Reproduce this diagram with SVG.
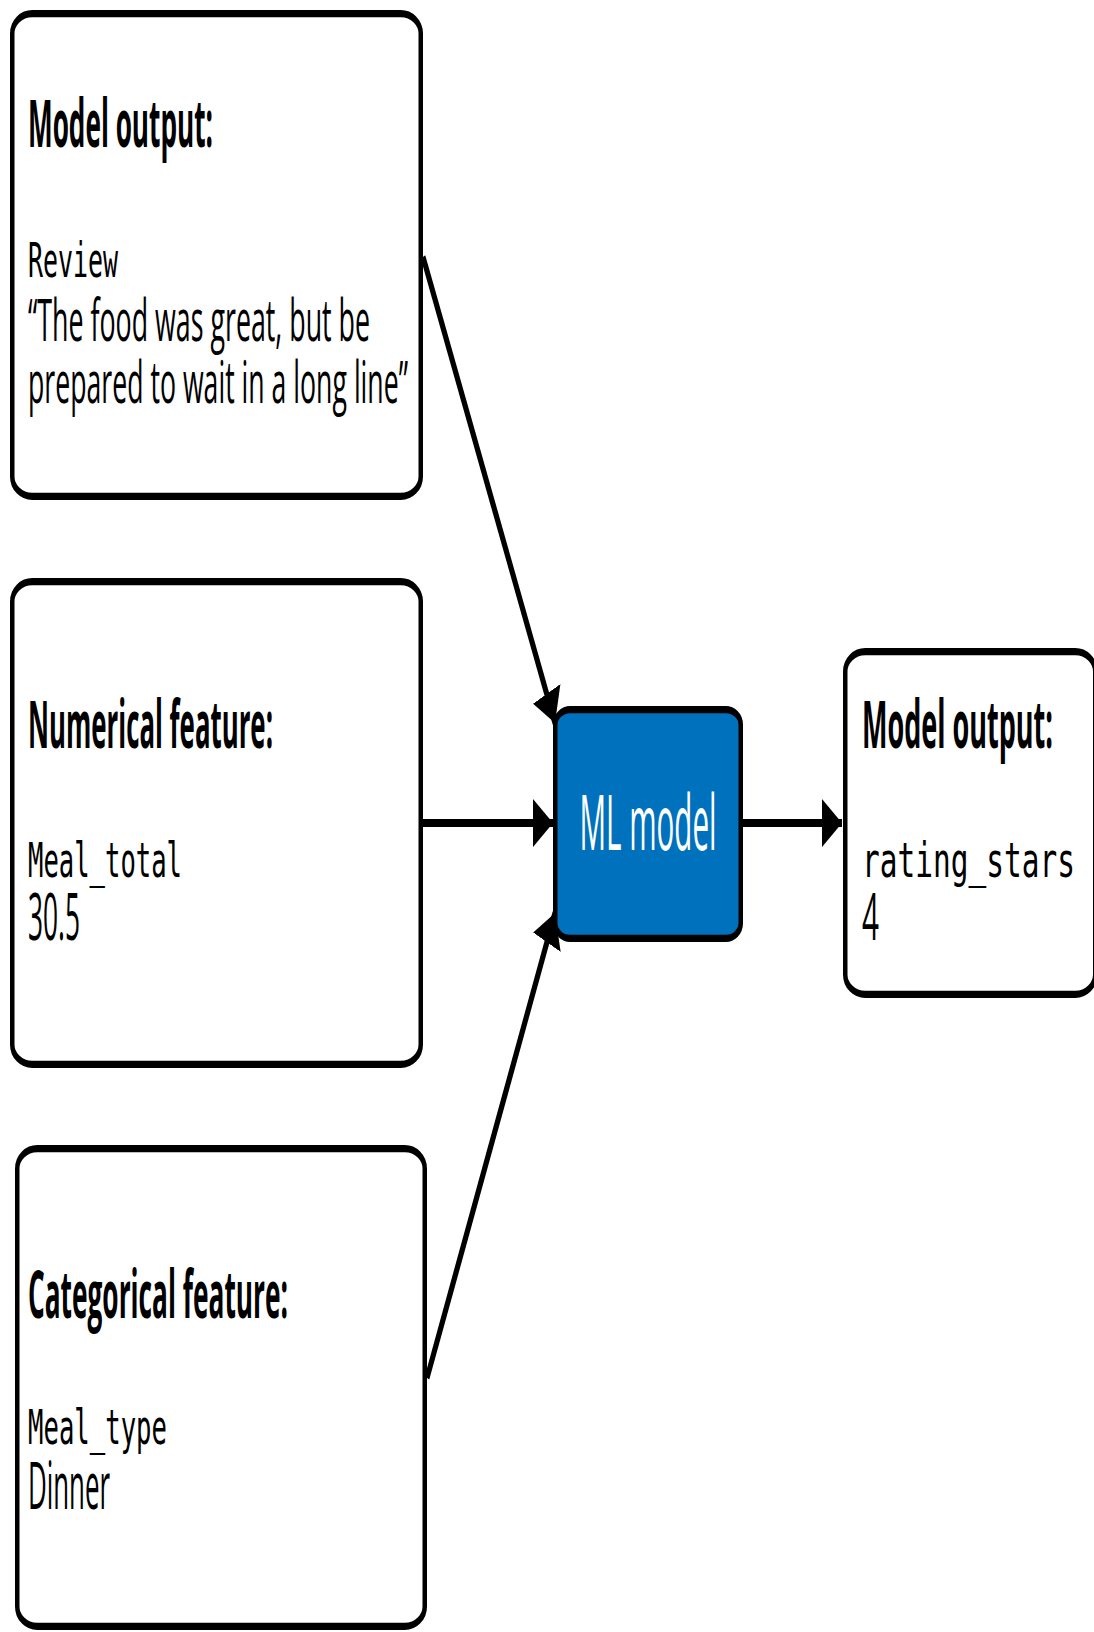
<svg xmlns="http://www.w3.org/2000/svg" width="1094" height="1632" viewBox="0 0 1094 1632">
  <style>
    .box { fill: #ffffff; stroke: #000000; stroke-width: 4.5; }
    .ml { fill: #0071bc; stroke: #000000; stroke-width: 4.5; }
    .title { font-family: "Open Sans", "Noto Sans", sans-serif; font-weight: 700; font-size: 41px; fill: #000000; }
    .mono { font-family: "DejaVu Sans Mono", "Liberation Mono", monospace; font-size: 30px; fill: #000000; }
    .body { font-family: "Open Sans", "Noto Sans", sans-serif; font-size: 37px; fill: #000000; }
    .val { font-family: "Open Sans", "Noto Sans", sans-serif; font-size: 41px; fill: #000000; }
    .mltext { font-family: "Open Sans", "Noto Sans", sans-serif; font-size: 48px; fill: #ffffff; }
    .edge { fill: none; stroke: #000000; stroke-width: 5; }
  </style>
  <defs>
    <marker id="arrow" markerUnits="userSpaceOnUse" markerWidth="20" markerHeight="30" refX="20" refY="15" orient="auto">
      <path d="M0,0 L20,15 L0,30 Z" fill="#000000"/>
    </marker>
  </defs>
  <rect width="1094" height="1632" fill="#ffffff"/>
  <g transform="scale(1,1.6)">
    <g id="connectors">
      <line class="edge" x1="423" y1="160.6" x2="555" y2="451.9" marker-end="url(#arrow)"/>
      <line class="edge" x1="423" y1="514.4" x2="553" y2="514.4" marker-end="url(#arrow)"/>
      <line class="edge" x1="427" y1="861.25" x2="555" y2="570.6" marker-end="url(#arrow)"/>
      <line class="edge" x1="743" y1="514.4" x2="842" y2="514.4" marker-end="url(#arrow)"/>
    </g>
    <g id="review">
      <rect class="box" x="12.25" y="8.5" width="408.5" height="301.75" rx="20" ry="12.5"/>
      <text class="title" x="28" y="91.9" textLength="185" lengthAdjust="spacingAndGlyphs">Model output:</text>
      <text class="mono" x="28" y="173.1" textLength="90" lengthAdjust="spacingAndGlyphs">Review</text>
      <text class="body" x="28" y="213.1" textLength="342" lengthAdjust="spacingAndGlyphs">“The food was great, but be</text>
      <text class="body" x="28" y="251.9" textLength="380" lengthAdjust="spacingAndGlyphs">prepared to wait in a long line”</text>
    </g>
    <g id="numerical">
      <rect class="box" x="12.25" y="363.5" width="408.5" height="301.75" rx="20" ry="12.5"/>
      <text class="title" x="28" y="467.5" textLength="245" lengthAdjust="spacingAndGlyphs">Numerical feature:</text>
      <text class="mono" x="28" y="548.1" textLength="154" lengthAdjust="spacingAndGlyphs">Meal_total</text>
      <text class="val" x="28" y="587.5" textLength="52" lengthAdjust="spacingAndGlyphs">30.5</text>
    </g>
    <g id="categorical">
      <rect class="box" x="17.25" y="717.9" width="407.5" height="298.6" rx="20" ry="12.5"/>
      <text class="title" x="28" y="823.75" textLength="260" lengthAdjust="spacingAndGlyphs">Categorical feature:</text>
      <text class="mono" x="28" y="902.5" textLength="139" lengthAdjust="spacingAndGlyphs">Meal_type</text>
      <text class="val" x="28" y="943.1" textLength="82" lengthAdjust="spacingAndGlyphs">Dinner</text>
    </g>
    <g id="ml-model">
      <rect class="ml" x="555.25" y="443.5" width="185.5" height="143" rx="15" ry="9.4"/>
      <text class="mltext" x="648" y="531.25" text-anchor="middle" textLength="137" lengthAdjust="spacingAndGlyphs">ML model</text>
    </g>
    <g id="output">
      <rect class="box" x="845.25" y="407.25" width="250" height="214.25" rx="20" ry="12.5"/>
      <text class="title" x="862" y="467.5" textLength="191" lengthAdjust="spacingAndGlyphs">Model output:</text>
      <text class="mono" x="862" y="548.1" textLength="213" lengthAdjust="spacingAndGlyphs">rating_stars</text>
      <text class="val" x="862" y="587.5" textLength="17" lengthAdjust="spacingAndGlyphs">4</text>
    </g>
  </g>
</svg>
